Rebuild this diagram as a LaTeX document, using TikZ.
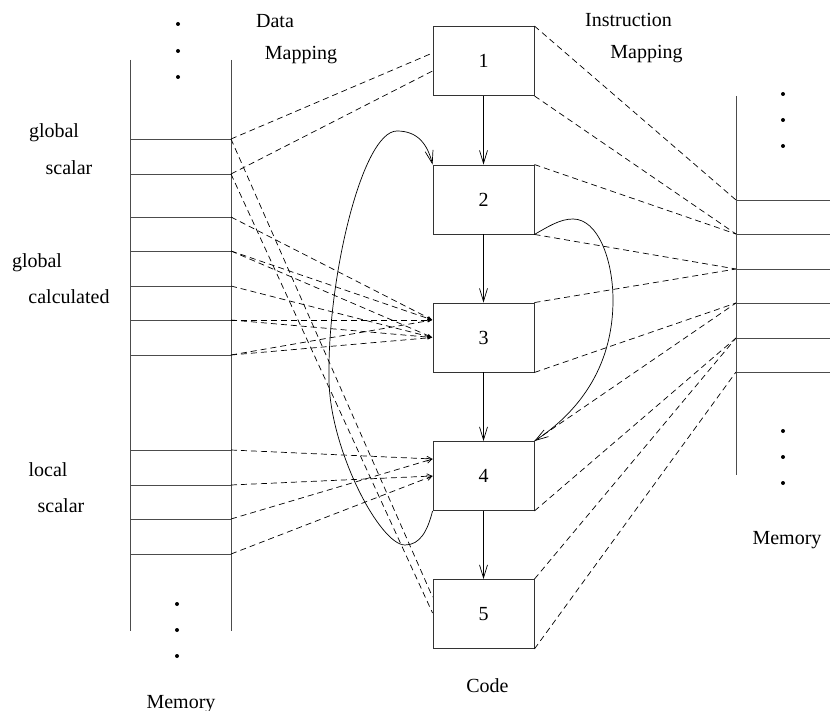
\documentclass[tikz,border=0pt]{standalone}
\usepackage{fontspec}
\setmainfont{Liberation Serif}
\usetikzlibrary{arrows.meta,calc}
\begin{document}
\begin{tikzpicture}[x=1pt,y=-1pt,
  txt/.style={inner sep=0pt, font=\fontsize{20}{24}\selectfont, text height=14pt, text depth=4pt},
  blk/.style={draw=black!80, line width=0.9pt, minimum width=101pt, minimum height=69pt,
              inner sep=0pt, font=\fontsize{20}{24}\selectfont},
  memline/.style={draw=black!70, line width=0.9pt},
  flow/.style={line width=0.7pt, -{Straight Barb[length=13pt,width=8pt]}},
  map/.style={line width=0.7pt, dash pattern=on 6pt off 4pt},
  tipfill/.style={-{Latex[length=5pt,width=3.5pt]}},
  tipopen/.style={-{Straight Barb[length=5pt,width=5pt]}},
  dot/.style={circle, fill, inner sep=0pt, minimum size=4pt}]
\useasboundingbox (0,0) rectangle (830,711);

% ---- data memory (left) ----
\draw[memline] (130,60) -- (130,631) (231,60) -- (231,631);
\foreach \n/\y in {1/139,2/174,3/217,4/251,5/286,6/320,7/355,8/450,9/485,10/519,11/554} {
  \draw[memline] (130,\y) -- (231,\y);
  \coordinate (L\n) at (231,\y);
}
\node[dot] (dl1) at (178,24) {};
\node[dot] (dl2) at (178,51) {};
\node[dot] (dl3) at (178,77) {};
\node[dot] (dl4) at (177,604) {};
\node[dot] (dl5) at (177,630) {};
\node[dot] (dl6) at (177,656) {};

\node[txt] (tg1) at (54,133) {global};
\node[txt] (ts1) at (69,170) {scalar};
\node[txt] (tg2) at (37,263) {global};
\node[txt] (tc2) at (69,299) {calculated};
\node[txt] (tl3) at (48,471) {local};
\node[txt] (ts3) at (61,507) {scalar};
\node[txt] (tmemL) at (181,703) {Memory};
\node[txt] (tdata) at (275,23) {Data};
\node[txt] (tdmap) at (301,55) {Mapping};

% ---- instruction memory (right) ----
\draw[memline] (736,96) -- (736,475);
\foreach \n/\y in {1/200,2/234,3/269,4/303,5/338,6/372} {
  \draw[memline] (736,\y) -- (830,\y);
  \coordinate (R\n) at (736,\y);
}
\node[dot] (dr1) at (783,94) {};
\node[dot] (dr2) at (783,120) {};
\node[dot] (dr3) at (783,146) {};
\node[dot] (dr4) at (783,431) {};
\node[dot] (dr5) at (783,457) {};
\node[dot] (dr6) at (783,483) {};
\node[txt] (tmemR) at (787,539) {Memory};
\node[txt] (tins) at (628.5,22) {Instruction};
\node[txt] (timap) at (646.5,54) {Mapping};

% ---- code blocks ----
\node[blk] (b1) at (483.5,61) {1};
\node[blk] (b2) at (483.5,199.5) {2};
\node[blk] (b3) at (483.5,337.5) {3};
\node[blk] (b4) at (483.5,476) {4};
\node[blk] (b5) at (483.5,614) {5};
\node[txt] (tcode) at (487.5,687) {Code};

\draw[flow] (b1) -- (b2);
\draw[flow] (b2) -- (b3);
\draw[flow] (b3) -- (b4);
\draw[flow] (b4) -- (b5);

% back edge 4 -> 2
\coordinate (u1) at (405,545);
\coordinate (u2) at (329,380);
\coordinate (u3) at (397,131);
\draw[flow] (b4.south west) .. controls +(-5,20) and +(15,0) .. (u1)
  .. controls +(-25,0) and +(1,70) .. (u2)
  .. controls +(-2,-100) and +(-35,0) .. (u3)
  .. controls +(21,0) and +(-5,-20) .. (b2.north west);

% forward edge 2 -> 4
\coordinate (v1) at (573,219);
\coordinate (v2) at (613,300);
\draw[flow] (b2.south east) .. controls +(14,-8) and +(-13,0) .. (v1)
  .. controls +(25,0) and +(0,-40) .. (v2)
  .. controls +(0,70) and +(41,-27) .. (b4.north east);

% ---- data mapping ----
\coordinate (b1a) at ($(b1.west)+(0,-8)$);
\coordinate (b1b) at ($(b1.west)+(0,10)$);
\coordinate (b3a) at ($(b3.west)+(0,-17.5)$);
\coordinate (b3b) at (b3.west);
\coordinate (b4a) at ($(b4.west)+(0,-17)$);
\coordinate (b4b) at (b4.west);
\coordinate (b5a) at ($(b5.west)+(0,-17)$);
\coordinate (b5b) at ($(b5.west)+(0,-1)$);

\draw[map] (L1) -- (b1a);
\draw[map] (L2) -- (b1b);
\draw[map] (L1) -- (b5a);
\draw[map] (L2) -- (b5b);

\draw[map,tipfill] (L3) -- (b3a);
\draw[map,tipfill] (L4) -- (b3a);
\draw[map,tipfill] (L4) -- (b3b);
\draw[map,tipfill] (L5) -- (b3b);
\draw[map,tipfill] (L6) -- (b3a);
\draw[map,tipfill] (L6) -- (b3b);
\draw[map,tipfill] (L7) -- (b3a);
\draw[map,tipfill] (L7) -- (b3b);

\draw[map,tipopen] (L8) -- (b4a);
\draw[map,tipopen] (L9) -- (b4b);
\draw[map,tipopen] (L10) -- (b4a);
\draw[map,tipopen] (L11) -- (b4b);

% ---- instruction mapping ----
\draw[map] (b1.north east) -- (R1);
\draw[map] (b1.south east) -- (R2);
\draw[map] (b2.north east) -- (R2);
\draw[map] (b2.south east) -- (R3);
\draw[map] (b3.north east) -- (R3);
\draw[map] (b3.south east) -- (R4);
\draw[map] (b4.north east) -- (R4);
\draw[map] (b4.south east) -- (R5);
\draw[map] (b5.north east) -- (R5);
\draw[map] (b5.south east) -- (R6);
\end{tikzpicture}
\end{document}
